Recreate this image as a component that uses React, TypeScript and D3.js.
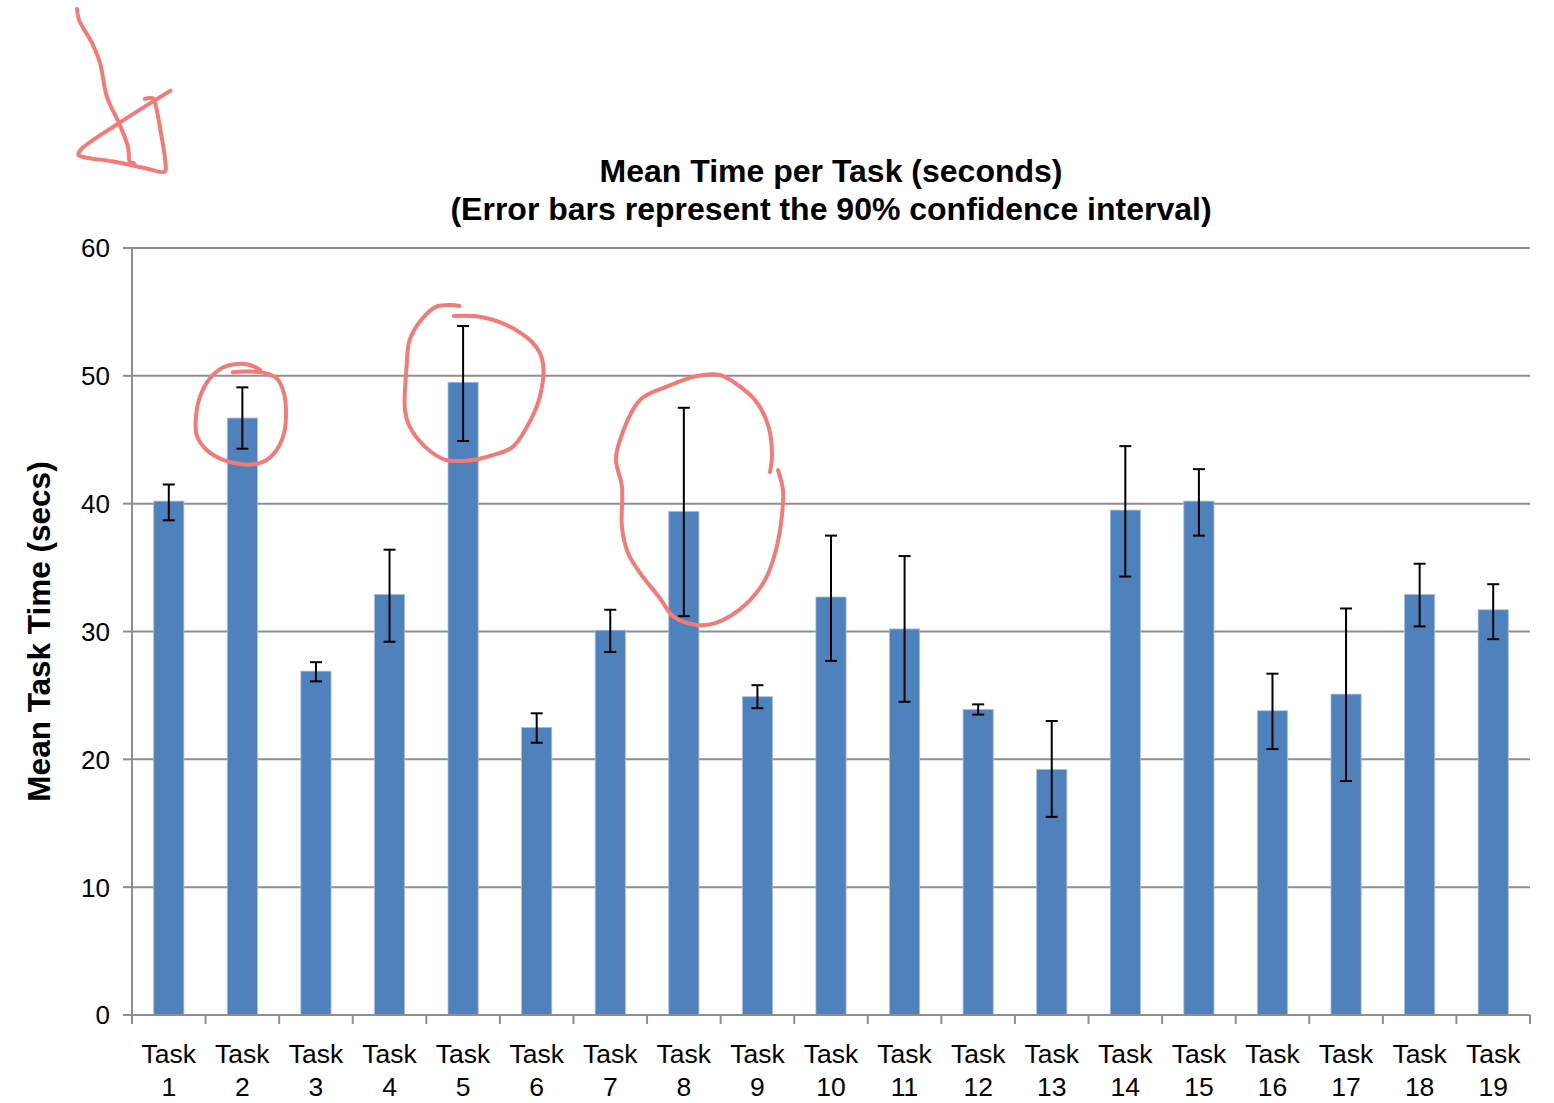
import React from "react";
import * as d3 from "d3";

const categories = [
  "Task 1", "Task 2", "Task 3", "Task 4", "Task 5", "Task 6", "Task 7", "Task 8", "Task 9", "Task 10",
  "Task 11", "Task 12", "Task 13", "Task 14", "Task 15", "Task 16", "Task 17", "Task 18", "Task 19",
];
const means = [40.2, 46.7, 26.9, 32.9, 49.5, 22.5, 30.1, 39.4, 24.9, 32.7, 30.2, 23.9, 19.2, 39.5, 40.2, 23.8, 25.1, 32.9, 31.7];
const ciLower = [38.7, 44.3, 26.1, 29.2, 44.9, 21.3, 28.4, 31.2, 24.0, 27.7, 24.5, 23.5, 15.5, 34.3, 37.5, 20.8, 18.3, 30.4, 29.4];
const ciUpper = [41.5, 49.1, 27.6, 36.4, 53.9, 23.6, 31.7, 47.5, 25.8, 37.5, 35.9, 24.3, 23.0, 44.5, 42.7, 26.7, 31.8, 35.3, 33.7];
const yTicks = [0, 10, 20, 30, 40, 50, 60];
const titleLines = ["Mean Time per Task (seconds)", "(Error bars represent the 90% confidence interval)"];
const yAxisLabel = "Mean Task Time (secs)";

// Hand-drawn red annotation strokes, in (category slot, value) units
const annoCircle2: [number, number][] = [
  [1.369, 50.28], [1.559, 50.33], [1.784, 50.25], [1.967, 49.81], [2.066, 48.64], [2.093, 47.07],
  [2.066, 45.51], [1.967, 44.2], [1.831, 43.42], [1.649, 43.08], [1.468, 43.11], [1.241, 43.42],
  [1.015, 44.2], [0.879, 45.37], [0.87, 46.8], [0.924, 48.37], [1.06, 49.81], [1.241, 50.67],
  [1.423, 50.93], [1.604, 50.85], [1.74, 50.46],
];
const annoCircle5: [number, number][] = [
  [4.373, 54.68], [4.764, 54.58], [5.178, 53.72], [5.491, 52.28], [5.586, 50.98], [5.555, 48.64],
  [5.44, 46.81], [5.178, 44.46], [4.865, 43.73], [4.553, 43.36], [4.24, 43.47], [3.982, 44.46],
  [3.774, 46.02], [3.71, 47.33], [3.732, 50.72], [3.774, 52.81], [3.93, 54.37], [4.138, 55.41],
  [4.346, 55.54], [4.451, 55.46],
];
const annoCircle8: [number, number][] = [
  [8.671, 42.48], [8.698, 43.81], [8.644, 46.16], [8.467, 48.11], [8.195, 49.44], [7.991, 50.07],
  [7.678, 49.99], [7.258, 49.13], [6.904, 48.11], [6.632, 44.98], [6.578, 43.42], [6.659, 41.31],
  [6.659, 38.18], [6.741, 36.14], [6.904, 34.58], [7.162, 32.7], [7.366, 31.14], [7.678, 30.51],
  [7.937, 30.67], [8.331, 32.07], [8.603, 34.03], [8.752, 36.38], [8.834, 39.11], [8.847, 41.07],
  [8.78, 42.63],
];
const annoSquiggleA: [number, number][] = [
  [-0.747, 78.7], [-0.72, 77.84], [-0.544, 76.04], [-0.435, 74.47], [-0.34, 71.81], [-0.177, 69.78],
  [-0.054, 67.9], [-0.027, 66.73], [0.027, 66.65],
];
const annoSquiggleB: [number, number][] = [
  [0.523, 72.31], [-0.179, 69.76], [-0.7, 67.67], [-0.727, 67.28], [-0.648, 67.1], [-0.231, 66.75],
  [0.185, 66.24], [0.446, 65.97], [0.455, 66.63], [0.394, 68.98], [0.315, 71.32], [0.285, 71.71],
  [0.174, 71.68],
];
const annotations = [annoCircle2, annoCircle5, annoCircle8, annoSquiggleA, annoSquiggleB];

const W = 1554;
const H = 1103;
const M = { left: 132, right: 1530, top: 248, bottom: 1015 };
const FONT = "'Liberation Sans', Arial, Helvetica, sans-serif";

export default function App() {
  const x = d3.scaleBand<string>().domain(categories).range([M.left, M.right]).paddingInner(0.59).paddingOuter(0.295);
  const y = d3.scaleLinear().domain([0, 60]).range([M.bottom, M.top]);
  const slot = d3.scaleLinear().domain([0, categories.length]).range([M.left, M.right]);
  const annoLine = d3
    .line<[number, number]>()
    .x((d) => slot(d[0]))
    .y((d) => y(d[1]))
    .curve(d3.curveCatmullRom.alpha(0.5));

  const gridColor = "#8e8e8e";
  const step = x.step();
  const boundaries = d3.range(categories.length + 1).map((i) => M.left + i * step);

  return (
    <svg width={W} height={H} style={{ position: "absolute", left: 0, top: 0, background: "#fff" }} fontFamily={FONT}>
      <rect x={0} y={0} width={W} height={H} fill="#fff" />
      {/* gridlines */}
      {yTicks.map((t) => (
        <line key={"g" + t} x1={M.left} x2={M.right} y1={y(t)} y2={y(t)} stroke={gridColor} strokeWidth={2} />
      ))}
      {/* y axis line and ticks */}
      <line x1={M.left} x2={M.left} y1={M.top} y2={M.bottom} stroke={gridColor} strokeWidth={2} />
      {yTicks.map((t) => (
        <g key={"yt" + t}>
          <line x1={M.left - 9} x2={M.left} y1={y(t)} y2={y(t)} stroke={gridColor} strokeWidth={2} />
          <text x={110} y={y(t)} dy="0.36em" textAnchor="end" fontSize={26} fill="#000">
            {t}
          </text>
        </g>
      ))}
      {/* x axis ticks */}
      {boundaries.map((bx, i) => (
        <line key={"xt" + i} x1={bx} x2={bx} y1={M.bottom} y2={M.bottom + 9} stroke={gridColor} strokeWidth={2} />
      ))}
      {/* bars */}
      {categories.map((c, i) => (
        <rect
          key={"b" + c}
          x={x(c)}
          y={y(means[i])}
          width={x.bandwidth()}
          height={y(0) - y(means[i])}
          fill="#4f81bd"
          stroke="#a7c0de"
          strokeWidth={0.8}
        />
      ))}
      {/* error bars */}
      {categories.map((c, i) => {
        const cx = (x(c) as number) + x.bandwidth() / 2;
        return (
          <g key={"e" + c} stroke="#000" strokeWidth={2}>
            <line x1={cx} x2={cx} y1={y(ciUpper[i])} y2={y(ciLower[i])} />
            <line x1={cx - 6} x2={cx + 6} y1={y(ciUpper[i])} y2={y(ciUpper[i])} />
            <line x1={cx - 6} x2={cx + 6} y1={y(ciLower[i])} y2={y(ciLower[i])} />
          </g>
        );
      })}
      {/* x axis baseline */}
      <line x1={M.left} x2={M.right} y1={M.bottom} y2={M.bottom} stroke={gridColor} strokeWidth={2} />
      {/* category labels */}
      {categories.map((c) => {
        const cx = (x(c) as number) + x.bandwidth() / 2;
        const parts = c.split(" ");
        return (
          <text key={"l" + c} x={cx} textAnchor="middle" fontSize={26.5} fill="#000">
            <tspan x={cx} y={1063}>{parts[0]}</tspan>
            <tspan x={cx} y={1096}>{parts[1]}</tspan>
          </text>
        );
      })}
      {/* title */}
      <text x={831} y={182} textAnchor="middle" fontSize={32} fontWeight="bold" fill="#000">
        {titleLines[0]}
      </text>
      <text x={831} y={220} textAnchor="middle" fontSize={32} fontWeight="bold" fill="#000">
        {titleLines[1]}
      </text>
      {/* y axis label */}
      <text
        transform={`translate(50, ${(M.top + M.bottom) / 2}) rotate(-90)`}
        textAnchor="middle"
        fontSize={31.5}
        fontWeight="bold"
        fill="#000"
      >
        {yAxisLabel}
      </text>
      {/* annotations */}
      {annotations.map((pts, i) => (
        <path
          key={"a" + i}
          d={annoLine(pts) || ""}
          fill="none"
          stroke="#f47a78"
          strokeWidth={4}
          strokeLinecap="round"
          strokeLinejoin="round"
        />
      ))}
    </svg>
  );
}
